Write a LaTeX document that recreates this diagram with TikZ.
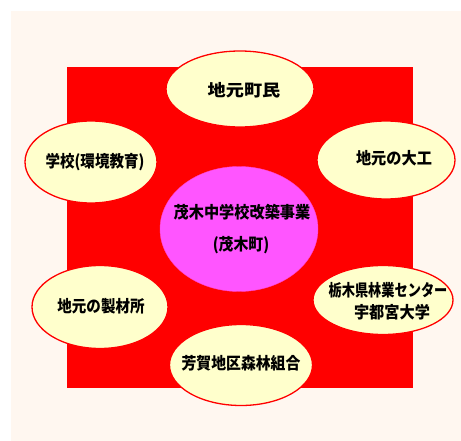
\documentclass[tikz,border=0pt]{standalone}
\usepackage{fontspec}
\newfontfamily\cjk{Noto Sans CJK JP}
\definecolor{bgc}{HTML}{FFF7F0}
\definecolor{redc}{HTML}{FF0000}
\definecolor{ylw}{HTML}{FFFFCC}
\definecolor{mag}{HTML}{FF55FF}
\tikzset{
  oval/.style={ellipse, draw=redc, line width=1.3pt, fill=ylw, inner sep=0pt},
  lbl/.style={font=\cjk\bfseries\fontsize{16.5}{16.5}\selectfont, text=black, align=center, inner sep=0pt},
}
\usetikzlibrary{shapes.geometric}
\begin{document}
\begin{tikzpicture}[x=1pt,y=-1pt]
\useasboundingbox (0,0) rectangle (461,441);
\fill[white] (0,0) rectangle (461,441);
\fill[bgc] (11,11) rectangle (461,441);
\fill[redc] (67,67) rectangle (413,388);
\node[ellipse, fill=mag, draw=mag!80!red, line width=0.4pt, minimum width=158pt, minimum height=125pt, inner sep=0pt] (c) at (239,229) {};
\node[oval, minimum width=148pt, minimum height=76pt] (t) at (240,89) {};
\node[oval, minimum width=132pt, minimum height=82pt] (l) at (91,162) {};
\node[oval, minimum width=138pt, minimum height=78pt] (r) at (386,160) {};
\node[oval, minimum width=136pt, minimum height=83pt] (bl) at (100,307) {};
\node[oval, minimum width=140pt, minimum height=69pt] (br) at (383,300) {};
\node[oval, minimum width=143pt, minimum height=81pt] (b) at (241,365) {};
\node[lbl, xscale=1.1] (tt) at (244,90) {地元町民};
\node[lbl, xscale=0.88] (lt) at (95,162) {学校(環境教育)};
\node[lbl, xscale=0.92] (rt) at (394,158) {地元の大工};
\node[lbl, xscale=0.92] (c1) at (242,212) {茂木中学校改築事業};
\node[lbl, xscale=0.9] (c2) at (241,245) {(茂木町)};
\node[lbl, xscale=0.8] (br1) at (388,290) {栃木県林業センター};
\node[lbl, xscale=0.92] (br2) at (392,312) {宇都宮大学};
\node[lbl, xscale=0.88] (blt) at (101,306) {地元の製材所};
\node[lbl, xscale=0.9] (bt) at (241,363) {芳賀地区森林組合};
\end{tikzpicture}
\end{document}
